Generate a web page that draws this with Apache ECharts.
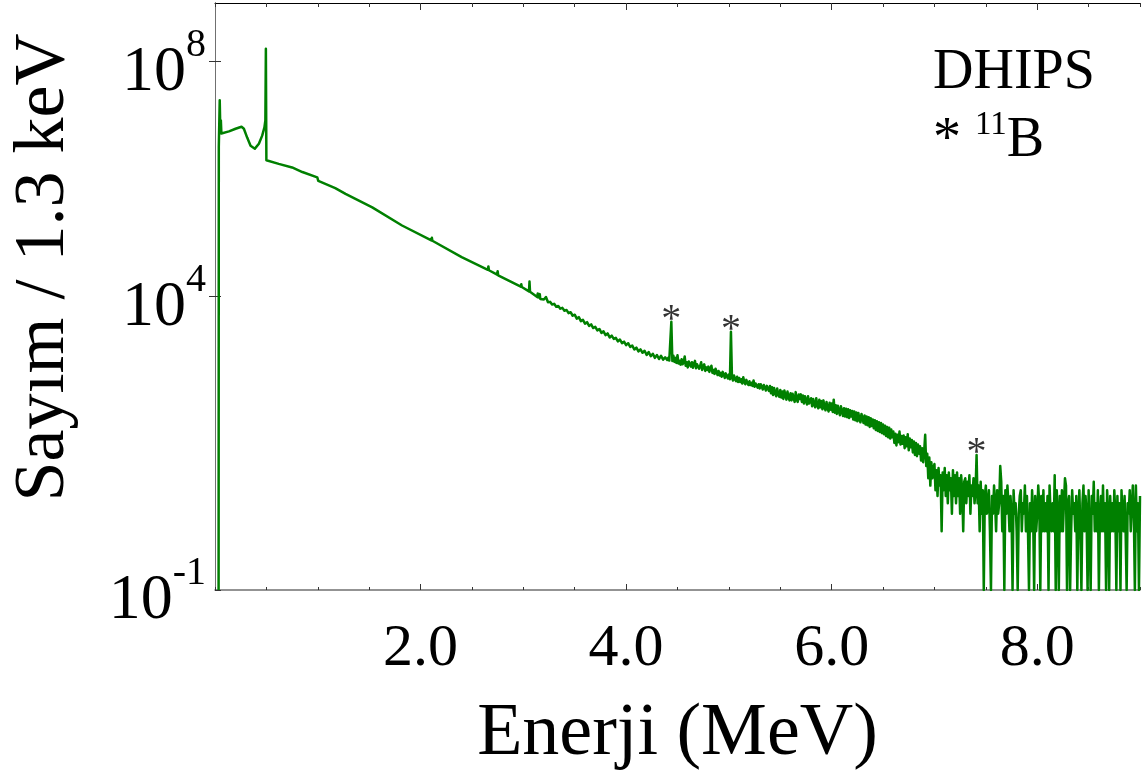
<!DOCTYPE html>
<html>
<head>
<meta charset="utf-8">
<script src="https://cdn.jsdelivr.net/npm/echarts@6/dist/echarts.min.js"></script>
<style>
  html, body { margin: 0; padding: 0; background: #ffffff; }
  #chart { width: 1145px; height: 783px; }
</style>
</head>
<body>
<div id="chart"></div>
<script>
// ---- DHIPS photon-scattering spectrum (counts per 1.3 keV bin) ----

// Low-energy region and smooth continuum: [energy in MeV, counts]
const lowEnergyPairs = [
  [0.035, 0], [0.037, 3.5e6], [0.046, 2.2e7], [0.052, 6.5e6], [0.057, 1.0e7],
  [0.062, 6.0e6], [0.078, 5.9e6], [0.136, 6.5e6], [0.200, 7.2e6], [0.258, 7.8e6],
  [0.281, 7.2e6], [0.313, 5.1e6], [0.346, 3.7e6], [0.388, 3.3e6], [0.427, 4.0e6],
  [0.459, 5.5e6], [0.481, 7.6e6], [0.490, 1.0e7], [0.495, 1.66e8], [0.500, 2.1e6],
  [0.507, 2.07e6], [0.62, 1.82e6], [0.75, 1.58e6], [0.85, 1.32e6], [0.995, 1.07e6],
  [1.005, 9.3e5], [1.17, 7.0e5], [1.27, 5.6e5], [1.40, 4.3e5], [1.53, 3.3e5],
  [1.82, 1.62e5], [2.105, 9.0e4], [2.11, 1.0e5], [2.115, 8.9e4], [2.40, 4.7e4],
  [2.655, 2.85e4], [2.66, 3.25e4], [2.665, 2.8e4], [2.745, 2.35e4], [2.75, 2.7e4],
  [2.755, 2.3e4], [2.975, 1.47e4], [2.98, 1.62e4], [2.985, 1.45e4], [3.055, 1.22e4],
  [3.06, 1.8e4], [3.065, 1.2e4], [3.135, 9.8e3], [3.14, 1.12e4], [3.145, 9.6e3],
  [3.155, 9.3e3], [3.16, 1.1e4], [3.165, 9.1e3], [3.18, 9.0e3]
];

// 3.20 - 4.38 MeV, 20 keV steps
const midStart = 3.20, midStep = 0.02;
const midCounts = [
  8900, 9800, 8000, 8100, 7300, 7500, 6700, 6900, 6200, 6400,
  5700, 5900, 5200, 5400, 4700, 4900, 4200, 4450, 3800, 4000,
  3450, 3650, 3150, 3350, 2900, 3050, 2650, 2800, 2400, 2550,
  2200, 2350, 2000, 2150, 1900, 1980, 1720, 1850, 1600, 1700,
  1480, 1600, 1380, 1460, 1250, 1350, 1160, 1260, 1100, 1190,
  1010, 1130, 960, 1060, 900, 1010, 860, 980, 840, 920
];

// 4.40 - 6.59 MeV, 10 keV steps
const fineStart = 4.40, fineStep = 0.01;
const fineCounts = [
  830, 900, 810, 860, 3700, 800, 980, 770, 900, 740,
  1000, 720, 800, 690, 850, 700, 760, 950, 660, 760,
  620, 780, 700, 640, 760, 610, 720, 800, 600, 700,
  720, 590, 650, 760, 560, 640, 700, 540, 620, 560,
  640, 520, 590, 660, 500, 560, 480, 590, 520, 460,
  540, 450, 500, 430, 520, 470, 410, 490, 440, 400,
  470, 390, 2500, 420, 370, 450, 390, 360, 430, 350,
  410, 350, 390, 330, 420, 350, 320, 380, 340, 310,
  360, 310, 340, 300, 370, 290, 330, 310, 280, 320,
  270, 320, 290, 260, 310, 280, 250, 300, 270, 245,
  300, 225, 285, 210, 275, 230, 200, 270, 215, 195,
  255, 190, 240, 180, 250, 210, 175, 240, 190, 170,
  225, 170, 220, 185, 160, 235, 175, 160, 215, 180,
  215, 160, 205, 150, 200, 170, 145, 200, 150, 140,
  185, 135, 180, 145, 130, 185, 140, 125, 175, 130,
  165, 120, 170, 130, 115, 160, 125, 110, 155, 118,
  150, 108, 175, 105, 140, 100, 138, 110, 95, 135,
  130, 92, 125, 90, 122, 88, 120, 85, 115, 90,
  112, 80, 110, 78, 106, 75, 104, 80, 72, 100,
  98, 70, 94, 66, 90, 64, 88, 60, 84, 62,
  80, 57, 78, 53, 75, 51, 72, 49, 70, 47,
  66, 45, 63, 42, 60, 40, 58, 38, 54, 40
];

// High-energy tail, 10 keV steps from 6.60 MeV
const highStart = 6.60, highStep = 0.01;
const highCounts = [
  50, 32, 46, 29, 44, 33, 50, 30, 42, 31,
  43, 26, 40, 28, 45, 24, 38, 27, 36, 22,
  34, 20, 32, 19, 30, 21, 28, 16, 26, 15,
  23, 44, 13, 21, 8, 18, 6, 15, 8, 12,
  14, 5, 11, 4, 12, 6, 9, 1, 10, 5,
  12, 4, 9, 3, 10, 5, 8, 2, 11, 4,
  9, 3, 10, 4, 8, 2, 9, 5, 1, 7,
  8, 3, 7, 4, 9, 2, 6, 4, 8, 3,
  5, 20, 3, 6, 1, 7, 2, 5, 0, 4,
  6, 2, 3, 5, 1, 0, 4, 2, 6, 3,
  1, 5, 2, 3, 13, 7, 1, 4, 0, 5,
  2, 6, 3, 1, 4, 2, 0, 5, 2, 3,
  1, 0, 2, 4, 5, 1, 3, 2, 6, 1,
  4, 1, 0, 3, 1, 5, 2, 0, 4, 1,
  2, 6, 3, 0, 4, 1, 5, 1, 3, 1,
  4, 0, 6, 2, 1, 3, 1, 9, 0, 5,
  2, 0, 4, 1, 5, 1, 3, 8, 6, 0,
  3, 4, 0, 1, 5, 2, 3, 1, 4, 0,
  2, 5, 1, 0, 3, 6, 1, 4, 2, 0,
  5, 1, 0, 4, 2, 7, 1, 3, 1, 5,
  0, 2, 4, 1, 6, 1, 3, 0, 5, 2,
  0, 4, 1, 3, 1, 5, 2, 0, 4, 1,
  3, 0, 5, 2, 1, 4, 1, 0, 3, 2,
  5, 1, 1, 6, 2, 0, 6, 1, 3, 0,
  4
];

// 11B transition lines marked with an asterisk (MeV)
const boronLines = [4.44, 5.02, 7.41];

// Axis ranges and tick values
const energyRange = [0, 9];
const countRange = [0.1, 1e9];
const energyLabels = [2, 4, 6, 8];
const countTicks = [1e-1, 1e4, 1e8];

// ---- assemble spectrum points ----
function appendGrid(pts, start, step, counts) {
  counts.forEach((c, i) => pts.push([+(start + i * step).toFixed(3), c]));
}
function buildSpectrum() {
  const pts = lowEnergyPairs.map(p => [p[0], p[1]]);
  appendGrid(pts, midStart, midStep, midCounts);
  appendGrid(pts, fineStart, fineStep, fineCounts);
  appendGrid(pts, highStart, highStep, highCounts);
  // empty bins cannot be shown on a log axis; pin them to the axis floor
  return pts.map(([e, c]) => [e, Math.max(c, countRange[0])]);
}
const spectrum = buildSpectrum();

function countAt(energy) {
  let best = spectrum[0];
  spectrum.forEach(p => { if (Math.abs(p[0] - energy) < Math.abs(best[0] - energy)) best = p; });
  return best;
}
const markerPoints = boronLines.map(countAt);

const serif = 'Liberation Serif';

function powerLabel(v) {
  const exp = Math.round(Math.log10(v));
  return '{b|10}{s|' + exp + '}';
}

const chart = echarts.init(document.getElementById('chart'), null, { renderer: 'canvas' });

const hiddenLabel = { show: false };
const option = {
  animation: false,
  backgroundColor: '#ffffff',
  grid: { left: 213, right: 5, top: 3, bottom: 193, containLabel: false },
  title: [
    {
      text: 'DHIPS',
      left: 928, top: 40,
      textStyle: { fontFamily: serif, fontSize: 56, fontWeight: 'normal', color: '#000' }
    },
    {
      text: '{a|*} {s|11}{b|B}',
      left: 928, top: 104,
      textStyle: {
        fontFamily: serif, fontSize: 56, fontWeight: 'normal', color: '#000',
        rich: {
          a: { fontFamily: serif, fontSize: 56, fontWeight: 'normal', color: '#000', lineHeight: 64 },
          s: { fontFamily: serif, fontSize: 33, fontWeight: 'normal', color: '#000', verticalAlign: 'top', lineHeight: 40 },
          b: { fontFamily: serif, fontSize: 56, fontWeight: 'normal', color: '#000', lineHeight: 64 }
        }
      }
    }
  ],
  xAxis: [
    {
      type: 'value', position: 'bottom', min: energyRange[0], max: energyRange[1], interval: 2,
      name: 'Enerji (MeV)', nameLocation: 'middle', nameGap: 108,
      nameTextStyle: { fontFamily: serif, fontSize: 74, color: '#000' },
      axisLine: { show: true, lineStyle: { color: '#707070', width: 1.5 } },
      axisTick: { show: true, inside: true, length: 6, customValues: energyLabels, lineStyle: { color: '#333' } },
      axisLabel: {
        show: true, customValues: energyLabels, margin: 29,
        fontFamily: serif, fontSize: 60, color: '#000',
        formatter: v => v.toFixed(1)
      },
      splitLine: { show: false }
    },
    {
      type: 'value', position: 'bottom', min: energyRange[0], max: energyRange[1], interval: 0.5,
      axisLine: { show: false },
      axisTick: { show: true, inside: true, length: 3, lineStyle: { color: '#333' } },
      axisLabel: hiddenLabel, splitLine: { show: false }
    },
    {
      type: 'value', position: 'top', min: energyRange[0], max: energyRange[1], interval: 0.5,
      axisLine: { show: true, lineStyle: { color: '#000', width: 1 } },
      axisTick: { show: true, inside: true, length: 4, lineStyle: { color: '#333' } },
      axisLabel: hiddenLabel, splitLine: { show: false }
    },
    {
      type: 'value', position: 'top', min: energyRange[0], max: energyRange[1], interval: 2,
      axisLine: { show: false },
      axisTick: { show: true, inside: true, length: 7, customValues: energyLabels, lineStyle: { color: '#333' } },
      axisLabel: hiddenLabel, splitLine: { show: false }
    }
  ],
  yAxis: [
    {
      type: 'log', logBase: 10, position: 'left', min: countRange[0], max: countRange[1],
      name: 'Sayım / 1.3 keV', nameLocation: 'middle', nameGap: 135, nameRotate: 90,
      nameTextStyle: { fontFamily: serif, fontSize: 72, color: '#000', padding: [0, 0, 0, 58] },
      axisLine: { show: true, lineStyle: { color: '#000', width: 1 } },
      axisTick: { show: true, inside: true, length: 6, customValues: countTicks, lineStyle: { color: '#333' } },
      axisLabel: {
        show: true, customValues: countTicks, margin: 9,
        formatter: powerLabel,
        padding: [7, 0, 0, 0],
        rich: {
          b: { fontFamily: serif, fontSize: 64, color: '#000', lineHeight: 80, verticalAlign: 'bottom' },
          s: { fontFamily: serif, fontSize: 40, color: '#000', lineHeight: 42, verticalAlign: 'top' }
        }
      },
      splitLine: { show: false }
    },
    {
      type: 'log', logBase: 10, position: 'right', min: countRange[0], max: countRange[1],
      axisLine: { show: true, lineStyle: { color: '#707070', width: 1 } },
      axisTick: { show: true, inside: true, length: 6, customValues: countTicks.slice(1), lineStyle: { color: '#333' } },
      axisLabel: hiddenLabel, splitLine: { show: false }
    }
  ],
  series: [
    {
      name: 'DHIPS',
      type: 'line',
      xAxisIndex: 0, yAxisIndex: 0,
      data: spectrum,
      showSymbol: false,
      symbol: 'none',
      clip: true,
      lineStyle: { color: '#008000', width: 2.5, join: 'round' },
      z: 3
    },
    {
      name: '11B',
      type: 'scatter',
      xAxisIndex: 0, yAxisIndex: 0,
      data: markerPoints,
      symbolSize: 0,
      label: {
        show: true, position: 'top', distance: -19, formatter: '*',
        fontFamily: serif, fontSize: 40, color: '#000'
      },
      z: 4
    }
  ]
};

chart.setOption(option);
</script>
</body>
</html>
